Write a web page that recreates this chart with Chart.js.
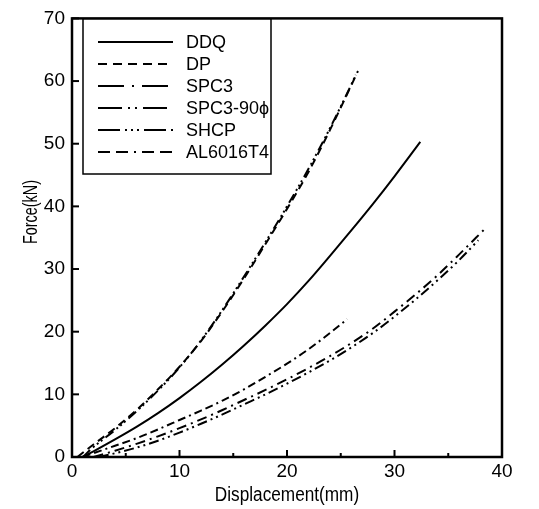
<!DOCTYPE html>
<html>
<head>
<meta charset="utf-8">
<script src="https://cdn.jsdelivr.net/npm/chart.js@4/dist/chart.umd.min.js"></script>
<style>
  html, body { margin: 0; padding: 0; background: #fff; }
  #wrap { width: 539px; height: 509px; }
</style>
</head>
<body>
<div id="wrap"><canvas id="chart"></canvas></div>
<script>
// values: displacement (mm) / force (kN)
const ddqX  = [1, 2, 4, 6, 8, 10, 12, 14, 16, 18, 20, 22, 24, 26, 28, 30, 32.4];
const ddqY  = [0, 0.9, 2.8, 4.8, 7.0, 9.4, 12.0, 14.8, 17.8, 21.0, 24.4, 28.1, 32.1, 36.2, 40.4, 44.8, 50.3];

const dpX   = [0.5, 2, 4, 6, 8, 10, 12, 14, 16, 18, 20, 22, 24, 26, 26.6];
const dpY   = [0, 2.0, 4.6, 7.5, 10.8, 14.4, 18.5, 23.3, 28.5, 34.0, 39.6, 45.5, 52.2, 59.4, 61.6];

const spc3X = [2, 4, 6, 8, 10, 12, 14, 16, 18, 20, 22, 24, 26, 28, 30, 32, 34, 36, 38.4];
const spc3Y = [0, 1.0, 2.1, 3.3, 4.6, 6.0, 7.5, 9.1, 10.7, 12.4, 14.2, 16.1, 18.2, 20.5, 23.2, 26.0, 29.0, 32.3, 36.4];

const spc390X = [2.5, 4, 6, 8, 10, 12, 14, 16, 18, 20, 22, 24, 26, 28, 30, 32, 34, 36, 37.8];
const spc390Y = [0, 0.6, 1.5, 2.6, 3.9, 5.3, 6.8, 8.4, 10.0, 11.7, 13.5, 15.4, 17.5, 19.8, 22.4, 25.2, 28.2, 31.4, 34.6];

const shcpX = [1, 2, 4, 6, 8, 10, 12, 14, 16, 18, 20, 22, 24, 26, 26.4];
const shcpY = [0, 1.6, 4.3, 7.3, 10.6, 14.3, 18.6, 23.5, 28.8, 34.3, 40.0, 46.0, 52.5, 59.5, 61.0];

const alX   = [1, 2, 4, 6, 8, 10, 12, 14, 16, 18, 20, 22, 24, 25.6];
const alY   = [0, 0.6, 1.8, 3.0, 4.4, 5.9, 7.4, 9.0, 10.8, 12.8, 14.9, 17.2, 19.8, 22.0];

const seriesNames = ['DDQ', 'DP', 'SPC3', 'SPC3-90ϕ', 'SHCP', 'AL6016T4'];
const xTicks = [0, 10, 20, 30, 40];
const yTicks = [0, 10, 20, 30, 40, 50, 60, 70];

const xs = [ddqX, dpX, spc3X, spc390X, shcpX, alX];
const ys = [ddqY, dpY, spc3Y, spc390Y, shcpY, alY];

// line styles on the plot and in the legend
const plotDash = [[], [8, 5], [10, 5, 2, 5], [10, 4, 2, 4, 2, 4], [10, 4, 2, 3, 2, 3, 2, 4], [8, 4, 8, 4, 2, 4]];
const legendDash = [[], [9, 6], [26, 8, 2, 8], [24, 6, 2, 5, 2, 6], [22, 5, 2, 4, 2, 4, 2, 5], [12, 6, 12, 6, 2, 6]];

const FONT = "'Liberation Sans', Arial, sans-serif";

const datasets = seriesNames.map((name, i) => ({
    label: name,
    data: xs[i].map((x, j) => ({ x: x, y: ys[i][j] })),
    borderColor: '#000',
    borderWidth: 2,
    borderDash: plotDash[i],
    pointRadius: 0,
    fill: false,
    cubicInterpolationMode: 'monotone'
}));

// narrow-looking text: draw at full height, squeezed sideways
function squeezedText(ctx, text, x, y, sx, angle) {
    ctx.save();
    ctx.translate(x, y);
    if (angle) ctx.rotate(angle);
    ctx.scale(sx, 1);
    ctx.fillText(text, 0, 0);
    ctx.restore();
}

const framePlugin = {
    id: 'frame',
    afterDraw(chart) {
        const ctx = chart.ctx;
        const a = chart.chartArea;
        const sx = chart.scales.x, sy = chart.scales.y;
        ctx.save();
        ctx.strokeStyle = '#000';
        ctx.setLineDash([]);
        ctx.lineWidth = 2.5;
        ctx.strokeRect(a.left, a.top, a.right - a.left, a.bottom - a.top);

        // inward ticks
        ctx.lineWidth = 2;
        yTicks.forEach(v => {
            const p = sy.getPixelForValue(v);
            ctx.beginPath(); ctx.moveTo(a.left, p); ctx.lineTo(a.left + 7, p); ctx.stroke();
        });
        for (let v = 0; v <= 40; v += 5) {
            const p = sx.getPixelForValue(v);
            const len = v % 10 === 0 ? 7 : 4;
            ctx.beginPath(); ctx.moveTo(p, a.bottom); ctx.lineTo(p, a.bottom - len); ctx.stroke();
        }

        // axis titles
        ctx.fillStyle = '#000';
        ctx.textAlign = 'center';
        ctx.textBaseline = 'middle';
        ctx.font = '20px ' + FONT;
        squeezedText(ctx, 'Displacement(mm)', (a.left + a.right) / 2, 495, 0.86, 0);
        ctx.font = '20px ' + FONT;
        squeezedText(ctx, 'Force(kN)', 31, 212, 0.72, -Math.PI / 2);
        ctx.restore();

        // legend box
        ctx.save();
        ctx.lineWidth = 1.5;
        ctx.strokeStyle = '#000';
        ctx.fillStyle = '#fff';
        ctx.fillRect(83, 19, 188, 155);
        ctx.strokeRect(83, 19, 188, 155);
        ctx.font = '18px ' + FONT;
        ctx.textAlign = 'left';
        ctx.textBaseline = 'middle';
        chart.data.datasets.forEach((ds, i) => {
            const y = 42 + i * 22;
            ctx.lineWidth = 2;
            ctx.setLineDash(legendDash[i]);
            ctx.beginPath(); ctx.moveTo(98, y); ctx.lineTo(173, y); ctx.stroke();
            ctx.setLineDash([]);
            ctx.fillStyle = '#000';
            ctx.fillText(ds.label, 186, y + 1);
        });
        ctx.restore();
    }
};

new Chart(document.getElementById('chart').getContext('2d'), {
    type: 'line',
    data: { datasets: datasets },
    options: {
        responsive: true,
        maintainAspectRatio: false,
        animation: false,
        layout: { padding: { top: 9, right: 37, left: 0, bottom: 0 } },
        plugins: { legend: { display: false }, tooltip: { enabled: false } },
        scales: {
            x: {
                type: 'linear',
                min: 0,
                max: 40,
                afterFit: s => { s.height = 52; },
                afterBuildTicks: s => { s.ticks = xTicks.map(v => ({ value: v })); },
                ticks: { color: '#000', font: { size: 19, family: FONT }, padding: 3, maxRotation: 0 },
                grid: { display: false, drawTicks: false },
                border: { display: false }
            },
            y: {
                type: 'linear',
                min: 0,
                max: 70,
                afterFit: s => { s.width = 72; },
                afterBuildTicks: s => { s.ticks = yTicks.map(v => ({ value: v })); },
                ticks: { color: '#000', font: { size: 19, family: FONT }, padding: 7 },
                grid: { display: false, drawTicks: false },
                border: { display: false }
            }
        }
    },
    plugins: [framePlugin]
});
</script>
</body>
</html>
